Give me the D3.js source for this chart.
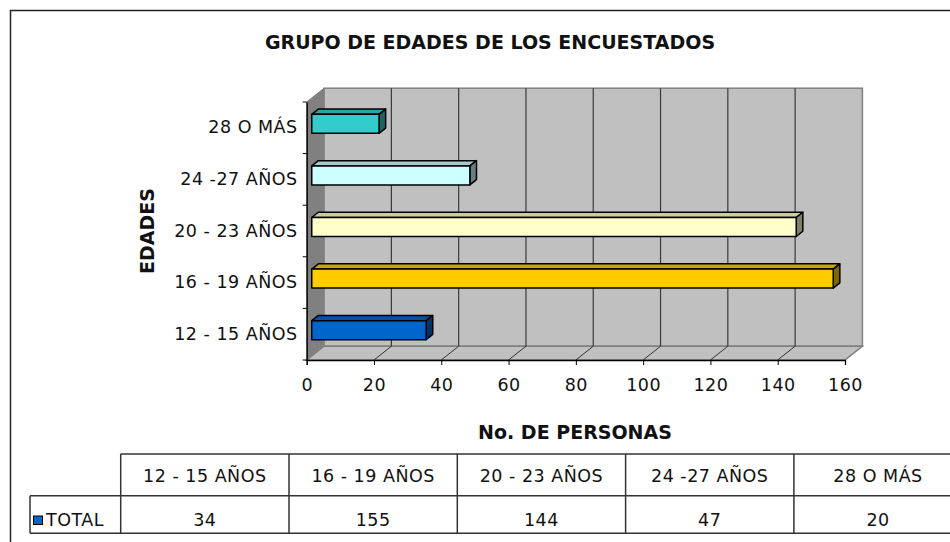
<!DOCTYPE html>
<html>
<head>
<meta charset="utf-8">
<script src="https://cdn.jsdelivr.net/npm/d3@7"></script>
<style>
  body { margin: 0; background: #fff; }
  svg text { font-family: "DejaVu Sans", sans-serif; fill: #111; }
  .lbl { font-size: 17.5px; letter-spacing: 0.5px; }
  .ttl { font-size: 19px; font-weight: bold; }
</style>
</head>
<body>
<div id="chart"></div>
<script>
// Données
const categories = ["12 - 15 AÑOS", "16 - 19 AÑOS", "20 - 23 AÑOS", "24 -27 AÑOS", "28 O MÁS"];
const values = [34, 155, 144, 47, 20];
const xTicks = [0, 20, 40, 60, 80, 100, 120, 140, 160];
const frontColors = ["#0066CC", "#FFCC00", "#FFFFCC", "#CCFFFF", "#33CCCC"];
const topColors = ["#0052A3", "#CCA300", "#CCCCA3", "#A3CCCC", "#29A3A3"];
const sideColors = ["#003366", "#806600", "#808066", "#668080", "#1A6666"];
const seriesName = "TOTAL";

const width = 950;
const height = 542;

const svg = d3.select("#chart").append("svg")
  .attr("width", width)
  .attr("height", height);

// cadre extérieur
svg.append("rect")
  .attr("x", 10.5).attr("y", 10.5)
  .attr("width", 960).attr("height", 560)
  .attr("fill", "none").attr("stroke", "#222").attr("stroke-width", 1.5);

// Échelles (plan avant)
const x = d3.scaleLinear().domain([0, 160]).range([306.7, 845]);
const y = d3.scaleBand().domain(categories).range([360, 102]);
const bw = y.bandwidth();

// profondeur 3D
const DX = 17.4, DY = -13.8;
const f1 = 0.29, f2 = 0.67;

const x0 = x(0), x1 = x(160), yTop = y.range()[1], yBot = y.range()[0];

// mur gauche
svg.append("polygon")
  .attr("points", [[x0, yTop], [x0 + DX, yTop + DY], [x0 + DX, yBot + DY], [x0, yBot]].join(" "))
  .attr("fill", "#808080").attr("stroke", "#777").attr("stroke-width", 1);

// mur du fond
svg.append("rect")
  .attr("x", x0 + DX).attr("y", yTop + DY)
  .attr("width", x1 - x0).attr("height", yBot - yTop)
  .attr("fill", "#C0C0C0").attr("stroke", "#808080").attr("stroke-width", 1.5);

// sol
svg.append("polygon")
  .attr("points", [[x0, yBot], [x1, yBot], [x1 + DX, yBot + DY], [x0 + DX, yBot + DY]].join(" "))
  .attr("fill", "#C0C0C0").attr("stroke", "#808080").attr("stroke-width", 1.5);

// quadrillage
const inner = xTicks.filter(t => t > 0 && t < 160);
svg.selectAll(".grid").data(inner).join("line")
  .attr("x1", d => x(d) + DX).attr("x2", d => x(d) + DX)
  .attr("y1", yTop + DY).attr("y2", yBot + DY)
  .attr("stroke", "#3a3a3a").attr("stroke-width", 1.2);
svg.selectAll(".floorgrid").data(inner).join("line")
  .attr("x1", d => x(d)).attr("y1", yBot)
  .attr("x2", d => x(d) + DX).attr("y2", yBot + DY)
  .attr("stroke", "#333").attr("stroke-width", 1);

// barres 3D
const ox1 = DX * f1, oy1 = DY * f1, ox2 = DX * f2, oy2 = DY * f2;
const barH = 19;
categories.forEach((c, i) => {
  const yc = y(c) + bw / 2;
  const yt = yc - barH / 2, yb = yc + barH / 2;
  const xl = x(0), xr = x(values[i]);
  const g = svg.append("g").attr("stroke", "#000").attr("stroke-width", 1.5).attr("stroke-linejoin", "round");
  g.append("polygon")
    .attr("points", [[xl + ox1, yt + oy1], [xr + ox1, yt + oy1], [xr + ox2, yt + oy2], [xl + ox2, yt + oy2]].join(" "))
    .attr("fill", topColors[i]);
  g.append("polygon")
    .attr("points", [[xr + ox1, yt + oy1], [xr + ox2, yt + oy2], [xr + ox2, yb + oy2], [xr + ox1, yb + oy1]].join(" "))
    .attr("fill", sideColors[i]);
  g.append("rect")
    .attr("x", xl + ox1).attr("y", yt + oy1)
    .attr("width", xr - xl).attr("height", barH)
    .attr("fill", frontColors[i]);
});

// axe X
const xAxis = svg.append("g").attr("transform", `translate(0,${yBot})`)
  .call(d3.axisBottom(x).tickValues(xTicks).tickSize(5).tickPadding(14).tickFormat(d3.format("d")));
xAxis.select(".domain").attr("stroke", "#000").attr("stroke-width", 1.3);
xAxis.selectAll(".tick line").attr("stroke", "#000");
xAxis.selectAll("text").attr("class", "lbl").attr("font-size", null).attr("font-family", null);

// axe Y
const yAxis = svg.append("g").attr("transform", `translate(${x0},0)`)
  .call(d3.axisLeft(y).tickSize(0).tickPadding(9));
yAxis.select(".domain").attr("stroke", "#000").attr("stroke-width", 1.3);
yAxis.selectAll("text").attr("class", "lbl").attr("font-size", null).attr("font-family", null);
const bounds = d3.range(categories.length + 1).map(i => yBot - i * bw);
svg.selectAll(".ytick").data(bounds).join("line")
  .attr("x1", x0 - 4).attr("x2", x0).attr("y1", d => d).attr("y2", d => d)
  .attr("stroke", "#000").attr("stroke-width", 1);

// titres
svg.append("text").attr("class", "ttl")
  .attr("x", 490).attr("y", 49).attr("text-anchor", "middle")
  .text("GRUPO DE EDADES DE LOS ENCUESTADOS");
svg.append("text").attr("class", "ttl")
  .attr("transform", "translate(154,231) rotate(-90)").attr("text-anchor", "middle")
  .text("EDADES");
svg.append("text").attr("class", "ttl")
  .attr("x", 575).attr("y", 439).attr("text-anchor", "middle")
  .text("No. DE PERSONAS");

// tableau de données
const colW = 168.3, tx0 = 120.7, tyTop = 454, tyMid = 495.7, tyBot = 533.3, tLeft = 30;
const tcol = d3.scaleBand().domain(categories).range([tx0, tx0 + colW * categories.length]);
const tg = svg.append("g").attr("stroke", "#333").attr("stroke-width", 1.5);
tg.append("line").attr("x1", tx0).attr("x2", 970).attr("y1", tyTop).attr("y2", tyTop);
tg.append("line").attr("x1", tLeft).attr("x2", 970).attr("y1", tyMid).attr("y2", tyMid);
tg.append("line").attr("x1", tLeft).attr("x2", 970).attr("y1", tyBot).attr("y2", tyBot);
tg.append("line").attr("x1", tLeft).attr("x2", tLeft).attr("y1", tyMid).attr("y2", tyBot);
tg.selectAll(".vcol").data(categories.concat(["end"])).join("line")
  .attr("x1", (d, i) => tx0 + i * colW).attr("x2", (d, i) => tx0 + i * colW)
  .attr("y1", tyTop).attr("y2", tyBot);

svg.selectAll(".thead").data(categories).join("text")
  .attr("class", "lbl")
  .attr("x", d => tcol(d) + colW / 2).attr("y", 482).attr("text-anchor", "middle")
  .text(d => d);
svg.selectAll(".tval").data(values).join("text")
  .attr("class", "lbl")
  .attr("x", (d, i) => tcol(categories[i]) + colW / 2).attr("y", 526).attr("text-anchor", "middle")
  .text(d => d);

// légende
svg.append("rect")
  .attr("x", 33.5).attr("y", 516).attr("width", 9).attr("height", 8.5)
  .attr("fill", frontColors[0]).attr("stroke", "#000").attr("stroke-width", 1);
svg.append("text").attr("class", "lbl")
  .attr("x", 46).attr("y", 526).text(seriesName);
</script>
</body>
</html>
